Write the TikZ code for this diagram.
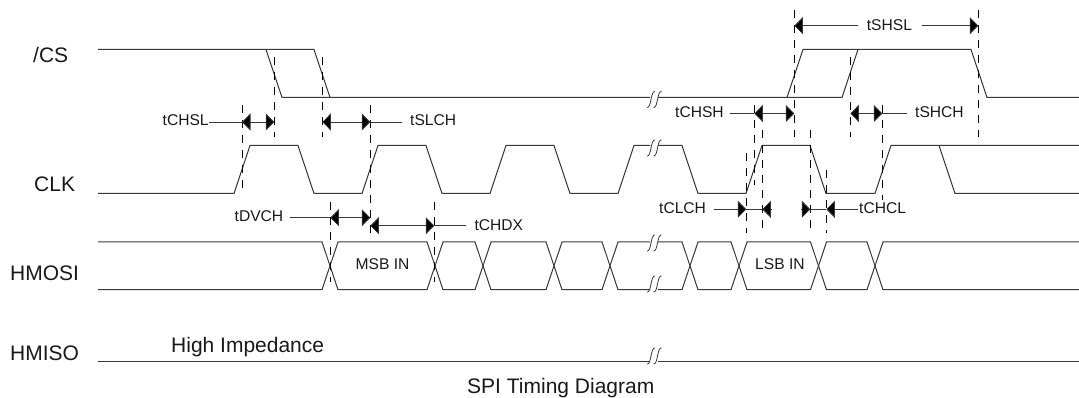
\documentclass[tikz,border=0pt]{standalone}
\usepackage{fontspec}
\setmainfont{Liberation Sans}
\usetikzlibrary{arrows.meta}
\tikzset{
  wave/.style={draw=black!78,line width=1pt,line join=miter},
  guide/.style={draw=black,line width=0.8pt,dash pattern=on 8pt off 7pt},
  dim/.style={draw=black!78,line width=0.8pt},
  tipboth/.style={dim,{Triangle[length=8.5pt,width=17pt,fill=black]}-{Triangle[length=8.5pt,width=17pt,fill=black]}},
  tipin/.style={dim,-{Triangle[length=8.5pt,width=17pt,fill=black]}},
  big/.style={font=\fontsize{21}{21}\selectfont,inner sep=0pt,anchor=base west,text=black!90},
  small/.style={font=\fontsize{15.6}{16}\selectfont,inner sep=0pt,anchor=base west,text=black!90},
}
\newcommand{\brk}[2]{%
  \draw[wave,line width=0.8pt] (#1-4,#2+8) .. controls (#1+0.5,#2+9) and (#1-0.5,#2-9) .. (#1+4,#2-8);
  \draw[wave,line width=0.8pt] (#1+2.5,#2+8) .. controls (#1+7,#2+9) and (#1+6,#2-9) .. (#1+10.5,#2-8);}
\begin{document}
\begin{tikzpicture}[x=1pt,y=-1pt]
\useasboundingbox (0,0) rectangle (1079,398);
% labels
\node[big] (lcs) at (33,63) {/CS};
\node[big] (lclk) at (34,192) {CLK};
\node[big] (lmosi) at (10,280) {HMOSI};
\node[big] (lmiso) at (10,360) {HMISO};
\node[big] (lhi) at (171,352) {High Impedance};
\node[big] (lcap) at (467,393) {SPI Timing Diagram};
\node[small] (lmsb) at (355.5,269.5) {MSB IN};
\node[small] (llsb) at (755,269.5) {LSB IN};
% /CS
\draw[wave] (98,49.5) -- (314,49.5) -- (330,97.5) -- (650,97.5);
\draw[wave] (266,49.5) -- (282,97.5) -- (330,97.5);
\draw[wave] (658,97.5) -- (842,97.5) -- (858,49.5) -- (971,49.5) -- (987,97.5) -- (1079,97.5);
\draw[wave] (787,97.5) -- (803,49.5) -- (858,49.5);
\brk{651}{99.5}
% CLK
\draw[wave] (98,193.5) -- (234,193.5) -- (250,145.5) -- (298,145.5) -- (314,193.5) -- (362,193.5) -- (378,145.5) -- (426,145.5) -- (442,193.5) -- (490,193.5) -- (506,145.5) -- (554,145.5) -- (570,193.5) -- (618,193.5) -- (634,145.5) -- (650,145.5);
\draw[wave] (658,145.5) -- (682,145.5) -- (698,193.5) -- (746,193.5) -- (762,145.5) -- (810,145.5) -- (826,193.5) -- (875,193.5) -- (891,145.5) -- (1079,145.5);
\draw[wave] (939,145.5) -- (955,193.5) -- (1079,193.5);
\brk{651}{148}
% HMOSI
\draw[wave] (98,242) -- (322,242) -- (338,289.7) -- (427,289.7) -- (443,242) -- (475,242) -- (491,289.7) -- (546,289.7) -- (562,242) -- (602,242) -- (618,289.7) -- (650,289.7);
\draw[wave] (98,289.7) -- (322,289.7) -- (338,242) -- (427,242) -- (443,289.7) -- (475,289.7) -- (491,242) -- (546,242) -- (562,289.7) -- (602,289.7) -- (618,242) -- (650,242);
\draw[wave] (658,242) -- (682,242) -- (698,289.7) -- (731,289.7) -- (747,242) -- (810.5,242) -- (826.5,289.7) -- (867,289.7) -- (883,242) -- (1079,242);
\draw[wave] (658,289.7) -- (682,289.7) -- (698,242) -- (731,242) -- (747,289.7) -- (810.5,289.7) -- (826.5,242) -- (867,242) -- (883,289.7) -- (1079,289.7);
\brk{651}{243}
\brk{651}{284}
% HMISO
\draw[wave] (98,361.7) -- (650,361.7);
\draw[wave] (658,361.7) -- (1079,361.7);
\brk{651}{356}
% guides
\draw[guide] (242,105) -- (242,190);
\draw[guide] (274.3,57) -- (274.3,137);
\draw[guide] (322.3,57) -- (322.3,137);
\draw[guide] (370.3,105) -- (370.3,233);
\draw[guide] (330.3,202) -- (330.3,282);
\draw[guide] (434.3,202) -- (434.3,282);
\draw[guide] (794.3,10) -- (794.3,137);
\draw[guide] (978.3,10) -- (978.3,137);
\draw[guide] (850.3,57) -- (850.3,137);
\draw[guide] (754.3,105) -- (754.3,185);
\draw[guide] (762.3,130) -- (762.3,230);
\draw[guide] (746.3,153) -- (746.3,233);
\draw[guide] (810.3,130) -- (810.3,230);
\draw[guide] (826.3,170) -- (826.3,233);
\draw[guide] (882.3,105) -- (882.3,200);
% tCHSL
\node[small] (tchsl) at (162.5,126) {tCHSL};
\coordinate (a1) at (242,122); \coordinate (a2) at (274.3,122);
\draw[tipboth] (a1) -- (a2); \draw[dim] (tchsl.base east |- a1) -- (a1);
% tSLCH
\node[small] (tslch) at (410,126) {tSLCH};
\coordinate (b1) at (322.3,122); \coordinate (b2) at (370.3,122); \coordinate (b3) at (402,122);
\draw[tipboth] (b1) -- (b2); \draw[dim] (b2) -- (b3);
% tCHSH
\node[small] (tchsh) at (675,118) {tCHSH};
\coordinate (c0) at (730,113.5); \coordinate (c1) at (754.3,113.5); \coordinate (c2) at (794.3,113.5);
\draw[tipboth] (c1) -- (c2); \draw[dim] (c0) -- (c1);
% tSHCH
\node[small] (tshch) at (915,118) {tSHCH};
\coordinate (d1) at (850.3,113.5); \coordinate (d2) at (882.3,113.5); \coordinate (d3) at (906.7,113.5);
\draw[tipboth] (d1) -- (d2); \draw[dim] (d2) -- (d3);
% tSHSL
\node[small] (tshsl) at (866.7,30.5) {tSHSL};
\coordinate (e1) at (794.3,25.7); \coordinate (e2) at (858,25.7); \coordinate (e3) at (922,25.7); \coordinate (e4) at (978.3,25.7);
\draw[tipin] (e2) -- (e1); \draw[tipin] (e3) -- (e4);
% tDVCH
\node[small] (tdvch) at (234.5,222) {tDVCH};
\coordinate (f0) at (290,217.7); \coordinate (f1) at (330.3,217.7); \coordinate (f2) at (370.3,217.7);
\draw[tipboth] (f1) -- (f2); \draw[dim] (f0) -- (f1);
% tCHDX
\node[small] (tchdx) at (474.3,230) {tCHDX};
\coordinate (g1) at (370.3,225.7); \coordinate (g2) at (434.3,225.7); \coordinate (g3) at (466,225.7);
\draw[tipboth] (g1) -- (g2); \draw[dim] (g2) -- (g3);
% tCLCH
\node[small] (tclch) at (659,214) {tCLCH};
\coordinate (h0) at (714,209.3); \coordinate (h1) at (746.3,209.3); \coordinate (h2) at (762.3,209.3); \coordinate (h3) at (771,209.3);
\draw[tipin] (h0) -- (h1); \draw[tipin] (h3) -- (h2); \draw[dim] (h1) -- (h2);
% tCHCL
\node[small] (tchcl) at (859,214) {tCHCL};
\coordinate (k0) at (801,209.3); \coordinate (k1) at (810.3,209.3); \coordinate (k2) at (826.3,209.3); \coordinate (k3) at (858,209.3);
\draw[tipin] (k0) -- (k1); \draw[tipin] (k3) -- (k2); \draw[dim] (k1) -- (k2);
\end{tikzpicture}
\end{document}
